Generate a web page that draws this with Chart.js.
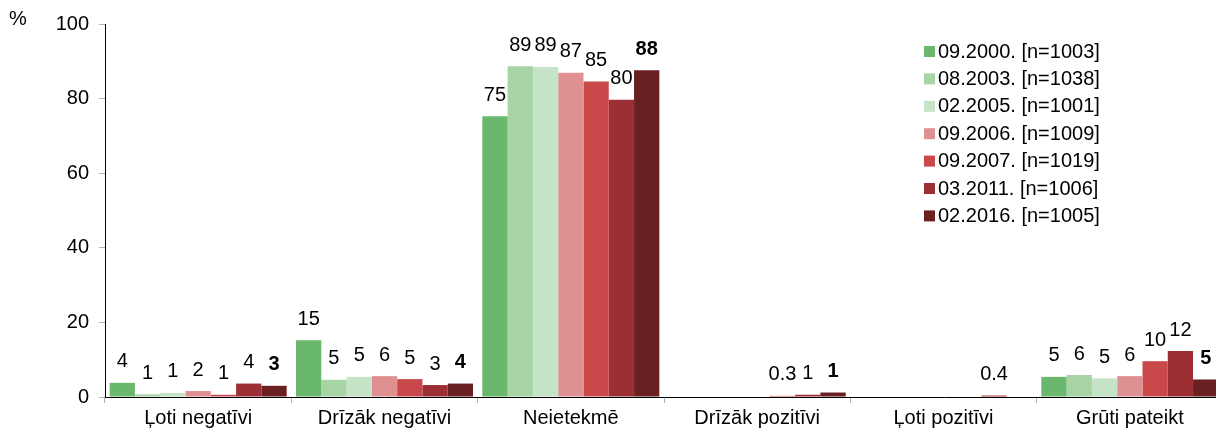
<!DOCTYPE html>
<html>
<head>
<meta charset="utf-8">
<script src="https://cdn.jsdelivr.net/npm/chart.js@4/dist/chart.umd.min.js"></script>
<style>
    html, body { margin: 0; padding: 0; background: #fff; overflow: hidden; }
    #wrap { width: 1223px; height: 432px; }
</style>
</head>
<body>
<div id="wrap"><canvas id="barChart" width="1223" height="432"></canvas></div>
<script>
// Categories and series
const categories = ['Ļoti negatīvi', 'Drīzāk negatīvi', 'Neietekmē', 'Drīzāk pozitīvi', 'Ļoti pozitīvi', 'Grūti pateikt'];
const seriesNames = ['09.2000. [n=1003]', '08.2003. [n=1038]', '02.2005. [n=1001]', '09.2006. [n=1009]', '09.2007. [n=1019]', '03.2011. [n=1006]', '02.2016. [n=1005]'];
const seriesColors = ['#6ab76e', '#a6d4a4', '#c5e3c7', '#df9191', '#c9494a', '#9c2f33', '#6a1f21'];

const v2000 = [3.8, 15.2, 75.3, null, null, 5.4];
const v2003 = [0.7, 4.6, 88.7, null, null, 5.9];
const v2005 = [1.1, 5.4, 88.5, null, null, 5.0];
const v2006 = [1.6, 5.6, 86.9, null, null, 5.6];
const v2007 = [0.6, 4.8, 84.6, 0.3, null, 9.6];
const v2011 = [3.6, 3.2, 79.7, 0.6, 0.4, 12.3];
const v2016 = [3.0, 3.6, 87.6, 1.2, null, 4.7];

const yTicks = [0, 20, 40, 60, 80, 100];

const allSeries = [v2000, v2003, v2005, v2006, v2007, v2011, v2016];
const FONT = '"Liberation Sans", Arial, sans-serif';

function fmtLabel(v) {
    if (v < 0.5) return v.toFixed(1);
    return String(Math.round(v));
}

// --- value labels above bars ---
const valueLabels = {
    id: 'valueLabels',
    afterDatasetsDraw(chart) {
        const ctx = chart.ctx;
        ctx.save();
        ctx.fillStyle = '#000';
        ctx.textAlign = 'center';
        ctx.textBaseline = 'middle';
        chart.data.datasets.forEach((ds, i) => {
            const meta = chart.getDatasetMeta(i);
            ctx.font = (i === 6 ? 'bold ' : '') + '20px ' + FONT;
            meta.data.forEach((bar, j) => {
                const v = ds.data[j];
                if (v === null || v === undefined) return;
                ctx.fillText(fmtLabel(v), bar.x, bar.y - 21);
            });
        });
        ctx.restore();
    }
};

// --- legend inside plot + "%" unit ---
const insideLegend = {
    id: 'insideLegend',
    afterDraw(chart) {
        const ctx = chart.ctx;
        ctx.save();
        ctx.font = '20px ' + FONT;
        ctx.textBaseline = 'middle';
        ctx.textAlign = 'left';
        chart.data.datasets.forEach((ds, i) => {
            const y = 52 + i * 27.4;
            ctx.fillStyle = ds.backgroundColor;
            ctx.fillRect(924, y - 6, 11, 11);
            ctx.fillStyle = '#000';
            ctx.fillText(ds.label, 938, y);
        });
        ctx.fillText('%', 9, 19);
        ctx.restore();
    }
};

const ctx = document.getElementById('barChart').getContext('2d');
new Chart(ctx, {
    type: 'bar',
    data: {
        labels: categories,
        datasets: allSeries.map((vals, i) => ({
            label: seriesNames[i],
            data: vals,
            backgroundColor: seriesColors[i],
            borderWidth: 0,
            categoryPercentage: 0.95,
            barPercentage: 1.0
        }))
    },
    options: {
        responsive: false,
        animation: false,
        layout: { padding: { top: 24, left: 0, right: 0, bottom: 0 } },
        plugins: {
            legend: { display: false },
            tooltip: { enabled: false }
        },
        scales: {
            x: {
                afterFit: s => { s.height = 35; },
                grid: { offset: true, drawOnChartArea: false, drawTicks: true, tickLength: 6, color: '#b3b3b3' },
                border: { color: '#000', width: 1 },
                ticks: { color: '#000', padding: 3, font: { family: FONT, size: 20 } }
            },
            y: {
                min: 0,
                max: 100,
                afterFit: s => { s.width = 105; },
                afterBuildTicks: s => { s.ticks = yTicks.map(v => ({ value: v })); },
                grid: { drawOnChartArea: false, drawTicks: true, tickLength: 6, color: '#b3b3b3' },
                border: { color: '#000', width: 1 },
                ticks: { color: '#000', padding: 10, font: { family: FONT, size: 20 } }
            }
        }
    },
    plugins: [valueLabels, insideLegend]
});
</script>
</body>
</html>
